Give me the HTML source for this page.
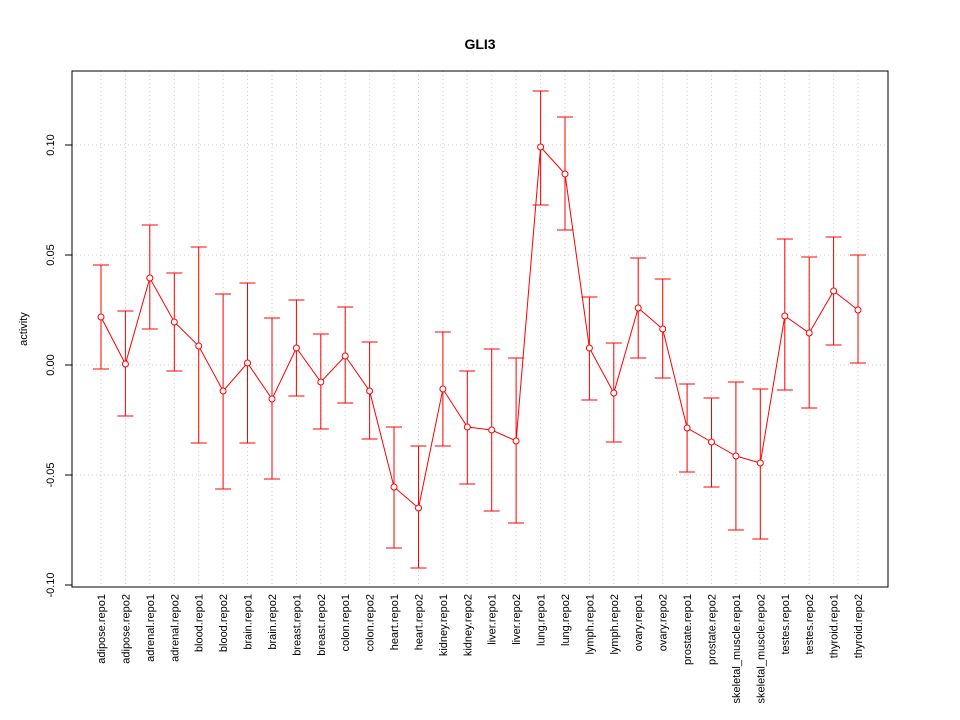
<!DOCTYPE html>
<html><head><meta charset="utf-8"><style>body{margin:0;background:#fff}svg{display:block}</style></head><body>
<svg width="960" height="720" xmlns="http://www.w3.org/2000/svg" font-family="Liberation Sans, sans-serif">
<rect width="960" height="720" fill="#fff"/>
<text x="480" y="49" text-anchor="middle" font-weight="bold" font-size="14">GLI3</text>
<g stroke="#ccc" stroke-dasharray="1,3" stroke-width="1">
<line x1="72" x2="888" y1="145" y2="145"/><line x1="72" x2="888" y1="255" y2="255"/><line x1="72" x2="888" y1="365" y2="365"/><line x1="72" x2="888" y1="475" y2="475"/>
<line x1="101" x2="101" y1="71" y2="587"/><line x1="125.4" x2="125.4" y1="71" y2="587"/><line x1="149.8" x2="149.8" y1="71" y2="587"/><line x1="174.3" x2="174.3" y1="71" y2="587"/><line x1="198.7" x2="198.7" y1="71" y2="587"/><line x1="223.1" x2="223.1" y1="71" y2="587"/><line x1="247.5" x2="247.5" y1="71" y2="587"/><line x1="272" x2="272" y1="71" y2="587"/><line x1="296.4" x2="296.4" y1="71" y2="587"/><line x1="320.8" x2="320.8" y1="71" y2="587"/><line x1="345.2" x2="345.2" y1="71" y2="587"/><line x1="369.6" x2="369.6" y1="71" y2="587"/><line x1="394" x2="394" y1="71" y2="587"/><line x1="418.5" x2="418.5" y1="71" y2="587"/><line x1="442.9" x2="442.9" y1="71" y2="587"/><line x1="467.3" x2="467.3" y1="71" y2="587"/><line x1="491.7" x2="491.7" y1="71" y2="587"/><line x1="516.1" x2="516.1" y1="71" y2="587"/><line x1="540.6" x2="540.6" y1="71" y2="587"/><line x1="565" x2="565" y1="71" y2="587"/><line x1="589.4" x2="589.4" y1="71" y2="587"/><line x1="613.8" x2="613.8" y1="71" y2="587"/><line x1="638.2" x2="638.2" y1="71" y2="587"/><line x1="662.7" x2="662.7" y1="71" y2="587"/><line x1="687.1" x2="687.1" y1="71" y2="587"/><line x1="711.5" x2="711.5" y1="71" y2="587"/><line x1="735.9" x2="735.9" y1="71" y2="587"/><line x1="760.3" x2="760.3" y1="71" y2="587"/><line x1="784.8" x2="784.8" y1="71" y2="587"/><line x1="809.2" x2="809.2" y1="71" y2="587"/><line x1="833.6" x2="833.6" y1="71" y2="587"/><line x1="858" x2="858" y1="71" y2="587"/>
</g>
<rect x="72" y="71" width="816" height="516" fill="none" stroke="#000"/>
<g stroke="#000">
<line x1="72" x2="65" y1="145" y2="145"/><line x1="72" x2="65" y1="255" y2="255"/><line x1="72" x2="65" y1="365" y2="365"/><line x1="72" x2="65" y1="475" y2="475"/><line x1="72" x2="65" y1="585" y2="585"/>
</g>
<g font-size="11" text-anchor="middle">
<text transform="translate(54,145) rotate(-90)">0.10</text>
<text transform="translate(54,255) rotate(-90)">0.05</text>
<text transform="translate(54,365) rotate(-90)">0.00</text>
<text transform="translate(54,475) rotate(-90)">-0.05</text>
<text transform="translate(54,585) rotate(-90)">-0.10</text>
<text transform="translate(27,329) rotate(-90)">activity</text>
</g>
<g stroke="#f00" stroke-width="1" fill="none">
<path d="M101,265V369M93,265H109M93,369H109"/>
<path d="M125.4,311V416M117.4,311H133.4M117.4,416H133.4"/>
<path d="M149.8,225V329M141.8,225H157.8M141.8,329H157.8"/>
<path d="M174.3,273V371M166.3,273H182.3M166.3,371H182.3"/>
<path d="M198.7,247V443M190.7,247H206.7M190.7,443H206.7"/>
<path d="M223.1,294V489M215.1,294H231.1M215.1,489H231.1"/>
<path d="M247.5,283V443M239.5,283H255.5M239.5,443H255.5"/>
<path d="M272,318V479M264,318H280M264,479H280"/>
<path d="M296.4,300V396M288.4,300H304.4M288.4,396H304.4"/>
<path d="M320.8,334V429M312.8,334H328.8M312.8,429H328.8"/>
<path d="M345.2,307V403M337.2,307H353.2M337.2,403H353.2"/>
<path d="M369.6,342V439M361.6,342H377.6M361.6,439H377.6"/>
<path d="M394,427V548M386,427H402M386,548H402"/>
<path d="M418.5,446V568M410.5,446H426.5M410.5,568H426.5"/>
<path d="M442.9,332V446M434.9,332H450.9M434.9,446H450.9"/>
<path d="M467.3,371V484M459.3,371H475.3M459.3,484H475.3"/>
<path d="M491.7,349V511M483.7,349H499.7M483.7,511H499.7"/>
<path d="M516.1,358V523M508.1,358H524.1M508.1,523H524.1"/>
<path d="M540.6,91V205M532.6,91H548.6M532.6,205H548.6"/>
<path d="M565,117V230M557,117H573M557,230H573"/>
<path d="M589.4,297V400M581.4,297H597.4M581.4,400H597.4"/>
<path d="M613.8,343V442M605.8,343H621.8M605.8,442H621.8"/>
<path d="M638.2,258V358M630.2,258H646.2M630.2,358H646.2"/>
<path d="M662.7,279V378M654.7,279H670.7M654.7,378H670.7"/>
<path d="M687.1,384V472M679.1,384H695.1M679.1,472H695.1"/>
<path d="M711.5,398V487M703.5,398H719.5M703.5,487H719.5"/>
<path d="M735.9,382V530M727.9,382H743.9M727.9,530H743.9"/>
<path d="M760.3,389V539M752.3,389H768.3M752.3,539H768.3"/>
<path d="M784.8,239V390M776.8,239H792.8M776.8,390H792.8"/>
<path d="M809.2,257V408M801.2,257H817.2M801.2,408H817.2"/>
<path d="M833.6,237V345M825.6,237H841.6M825.6,345H841.6"/>
<path d="M858,255V363M850,255H866M850,363H866"/>
<polyline points="101,317 125.4,364 149.8,278 174.3,322 198.7,346 223.1,391 247.5,363 272,399 296.4,348 320.8,382 345.2,356 369.6,391 394,487 418.5,508 442.9,389 467.3,427 491.7,430 516.1,441 540.6,147 565,174 589.4,348 613.8,393 638.2,308 662.7,329 687.1,428 711.5,442 735.9,456 760.3,463 784.8,316 809.2,333 833.6,291 858,310"/>
</g>
<g stroke="#f00" fill="#fff">
<circle cx="101" cy="317" r="3"/><circle cx="125.4" cy="364" r="3"/><circle cx="149.8" cy="278" r="3"/><circle cx="174.3" cy="322" r="3"/><circle cx="198.7" cy="346" r="3"/><circle cx="223.1" cy="391" r="3"/><circle cx="247.5" cy="363" r="3"/><circle cx="272" cy="399" r="3"/><circle cx="296.4" cy="348" r="3"/><circle cx="320.8" cy="382" r="3"/><circle cx="345.2" cy="356" r="3"/><circle cx="369.6" cy="391" r="3"/><circle cx="394" cy="487" r="3"/><circle cx="418.5" cy="508" r="3"/><circle cx="442.9" cy="389" r="3"/><circle cx="467.3" cy="427" r="3"/><circle cx="491.7" cy="430" r="3"/><circle cx="516.1" cy="441" r="3"/><circle cx="540.6" cy="147" r="3"/><circle cx="565" cy="174" r="3"/><circle cx="589.4" cy="348" r="3"/><circle cx="613.8" cy="393" r="3"/><circle cx="638.2" cy="308" r="3"/><circle cx="662.7" cy="329" r="3"/><circle cx="687.1" cy="428" r="3"/><circle cx="711.5" cy="442" r="3"/><circle cx="735.9" cy="456" r="3"/><circle cx="760.3" cy="463" r="3"/><circle cx="784.8" cy="316" r="3"/><circle cx="809.2" cy="333" r="3"/><circle cx="833.6" cy="291" r="3"/><circle cx="858" cy="310" r="3"/>
</g>
<g font-size="11" text-anchor="end">
<text transform="translate(105,594) rotate(-90)">adipose.repo1</text>
<text transform="translate(129.4,594) rotate(-90)">adipose.repo2</text>
<text transform="translate(153.8,594) rotate(-90)">adrenal.repo1</text>
<text transform="translate(178.3,594) rotate(-90)">adrenal.repo2</text>
<text transform="translate(202.7,594) rotate(-90)">blood.repo1</text>
<text transform="translate(227.1,594) rotate(-90)">blood.repo2</text>
<text transform="translate(251.5,594) rotate(-90)">brain.repo1</text>
<text transform="translate(276,594) rotate(-90)">brain.repo2</text>
<text transform="translate(300.4,594) rotate(-90)">breast.repo1</text>
<text transform="translate(324.8,594) rotate(-90)">breast.repo2</text>
<text transform="translate(349.2,594) rotate(-90)">colon.repo1</text>
<text transform="translate(373.6,594) rotate(-90)">colon.repo2</text>
<text transform="translate(398,594) rotate(-90)">heart.repo1</text>
<text transform="translate(422.5,594) rotate(-90)">heart.repo2</text>
<text transform="translate(446.9,594) rotate(-90)">kidney.repo1</text>
<text transform="translate(471.3,594) rotate(-90)">kidney.repo2</text>
<text transform="translate(495.7,594) rotate(-90)">liver.repo1</text>
<text transform="translate(520.1,594) rotate(-90)">liver.repo2</text>
<text transform="translate(544.6,594) rotate(-90)">lung.repo1</text>
<text transform="translate(569,594) rotate(-90)">lung.repo2</text>
<text transform="translate(593.4,594) rotate(-90)">lymph.repo1</text>
<text transform="translate(617.8,594) rotate(-90)">lymph.repo2</text>
<text transform="translate(642.2,594) rotate(-90)">ovary.repo1</text>
<text transform="translate(666.7,594) rotate(-90)">ovary.repo2</text>
<text transform="translate(691.1,594) rotate(-90)">prostate.repo1</text>
<text transform="translate(715.5,594) rotate(-90)">prostate.repo2</text>
<text transform="translate(739.9,594) rotate(-90)">skeletal_muscle.repo1</text>
<text transform="translate(764.3,594) rotate(-90)">skeletal_muscle.repo2</text>
<text transform="translate(788.8,594) rotate(-90)">testes.repo1</text>
<text transform="translate(813.2,594) rotate(-90)">testes.repo2</text>
<text transform="translate(837.6,594) rotate(-90)">thyroid.repo1</text>
<text transform="translate(862,594) rotate(-90)">thyroid.repo2</text>
</g>
</svg>
</body></html>
